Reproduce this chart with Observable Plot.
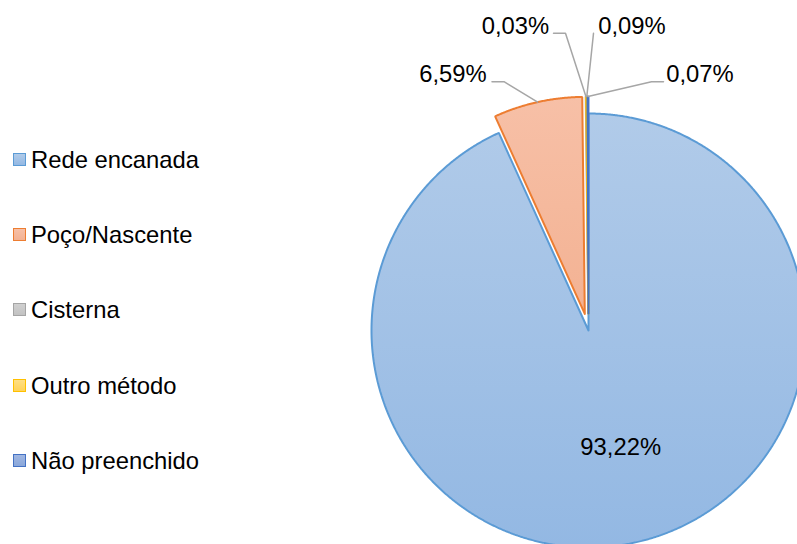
<!DOCTYPE html>
<html><head><meta charset="utf-8">
<script src="https://cdn.jsdelivr.net/npm/d3@7"></script>
<script src="https://cdn.jsdelivr.net/npm/@observablehq/plot@0.6"></script>
<style>
body{margin:0;background:#fff;font-family:"Liberation Sans",Arial,sans-serif;}
#wrap{position:relative;width:797px;height:544px;overflow:hidden;background:#fff;}
#chart{position:absolute;left:0;top:0;}
.sw{position:absolute;box-sizing:border-box;width:13px;height:13px;border:1.5px solid;}
.lt{position:absolute;font-size:23.8px;line-height:normal;color:#000;white-space:nowrap;}
</style></head><body>
<div id="wrap"><div id="chart"></div></div>
<script>
// ---- data ----
const categories = ["Rede encanada", "Poço/Nascente", "Cisterna", "Outro método", "Não preenchido"];
const shares = [93.22, 6.59, 0.03, 0.09, 0.07];
const valueLabels = ["93,22%", "6,59%", "0,03%", "0,09%", "0,07%"];

// ---- styles ----
const fillTop = ["#b1cbe9", "#f7c0a7", "#d0d0d0", "#ffdf85", "#a0b7e2"];
const fillBottom = ["#93b8e3", "#f3b293", "#c2c2c2", "#ffd35a", "#8aa7da"];
const strokes = ["#5b9bd5", "#ed7d31", "#a5a5a5", "#ffc000", "#4472c4"];

// ---- layout ----
const cx = 588, cy = 330, R = 217;          // pie centre & radius in px
const explode = [0, 17, 17, 17, 17];        // px
// label centre offsets relative to pie centre (px), leader start & bend offsets relative to label centre (px)
const labelLayout = [
  {inside: true, r: 0.55, dx: 7},
  {lx: -135.5, ly: -255.8, start: [39, 7], bend: [51, 7]},
  {lx: -73, ly: -304.2, start: [38, 7], bend: [50, 7]},
  {lx: 43.5, ly: -304.2, start: [-38.5, 7], bend: null},
  {lx: 111.5, ly: -255.8, start: [-36.5, 7], bend: [-48.5, 7]}
];

// unit system: pie radius = 1, y up
const U = (px) => (px - cx) / R;
const V = (py) => (cy - py) / R;

const total = d3.sum(shares);
const slices = [];
let acc = 0;
shares.forEach((s, i) => {
  const a0 = acc / total * 2 * Math.PI;
  acc += s;
  const a1 = acc / total * 2 * Math.PI;
  const mid = (a0 + a1) / 2;
  const e = explode[i] / R;
  const ox = e * Math.sin(mid), oy = e * Math.cos(mid);
  const n = Math.max(2, Math.ceil((a1 - a0) / 0.005));
  const pts = [{u: ox, v: oy}];
  for (let k = 0; k <= n; k++) {
    const a = a0 + (a1 - a0) * k / n;
    pts.push({u: ox + Math.sin(a), v: oy + Math.cos(a)});
  }
  pts.push({u: ox, v: oy});
  slices.push({i, a0, a1, mid, ox, oy, pts, edge: {u: ox + Math.sin(mid), v: oy + Math.cos(mid)}});
});

// gradients
const defsMark = () => {
  const g = d3.create("svg:g");
  const defs = g.append("defs");
  categories.forEach((c, i) => {
    const lg = defs.append("linearGradient").attr("id", "grad" + i)
      .attr("x1", 0).attr("y1", 0).attr("x2", 0).attr("y2", 1);
    lg.append("stop").attr("offset", "0%").attr("stop-color", fillTop[i]);
    lg.append("stop").attr("offset", "100%").attr("stop-color", fillBottom[i]);
  });
  return g.node();
};

const marks = [defsMark];
slices.forEach(s => {
  marks.push(Plot.line(s.pts, {
    x: "u", y: "v", fill: `url(#grad${s.i})`, stroke: strokes[s.i],
    strokeWidth: 2, strokeLinejoin: "miter", curve: "linear"
  }));
});

// labels & leaders
const labelData = [];
slices.forEach(s => {
  const L = labelLayout[s.i];
  if (L.inside) {
    labelData.push({u: L.r * Math.sin(s.mid) + L.dx / R, v: L.r * Math.cos(s.mid), t: valueLabels[s.i]});
  } else {
    const lu = L.lx / R, lv = -L.ly / R;
    labelData.push({u: lu, v: lv, t: valueLabels[s.i]});
    const line = [{u: lu + L.start[0] / R, v: lv - L.start[1] / R}];
    if (L.bend) line.push({u: lu + L.bend[0] / R, v: lv - L.bend[1] / R});
    line.push(s.edge);
    marks.push(Plot.line(line, {x: "u", y: "v", stroke: "#a6a6a6", strokeWidth: 1.5, strokeLinejoin: "miter"}));
  }
});
marks.push(Plot.text(labelData, {
  x: "u", y: "v", text: "t", fontSize: 23.8, fill: "#000",
  fontFamily: "Liberation Sans, Arial, sans-serif", textAnchor: "middle", lineAnchor: "middle"
}));

const plot = Plot.plot({
  width: 797, height: 544, margin: 0,
  x: {domain: [U(0), U(797)], range: [0, 797], axis: null},
  y: {domain: [V(544), V(0)], range: [544, 0], axis: null},
  style: {background: "transparent", overflow: "hidden"},
  marks
});
document.getElementById("chart").appendChild(plot);

// legend
const wrap = document.getElementById("wrap");
categories.forEach((c, i) => {
  const yc = 159.5 + 75.2 * i;
  const sw = document.createElement("div");
  sw.className = "sw";
  sw.style.left = "13px";
  sw.style.top = (yc - 6.5) + "px";
  sw.style.borderColor = strokes[i];
  sw.style.background = `linear-gradient(${fillTop[i]}, ${fillBottom[i]})`;
  wrap.appendChild(sw);
  const t = document.createElement("div");
  t.className = "lt";
  t.textContent = c;
  t.style.left = "31px";
  t.style.top = (yc - 13.5) + "px";
  wrap.appendChild(t);
});
</script>
</body></html>
